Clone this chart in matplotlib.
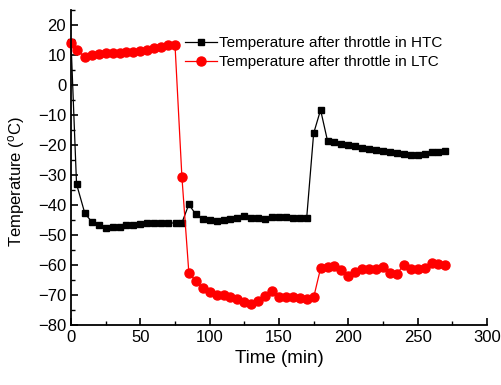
import matplotlib as mpl
mpl.use('Agg')
import matplotlib.pyplot as plt
from matplotlib.ticker import MultipleLocator

plt.rcParams['font.family'] = ['Liberation Sans', 'DejaVu Sans']
plt.rcParams['mathtext.fontset'] = 'custom'
plt.rcParams['mathtext.rm'] = 'Liberation Sans'
plt.rcParams['mathtext.it'] = 'Liberation Sans'

# time (min) and temperature (C)
t_htc = [0, 4, 10, 15, 20, 25, 30, 35, 40, 45, 50, 55, 60, 65, 70, 76,
         80, 85, 90, 95, 100, 105, 110, 115, 120, 125, 130, 135, 140, 145,
         150, 155, 160, 165, 170, 175, 180, 185, 190, 195, 200, 205, 210,
         215, 220, 225, 230, 235, 240, 245, 250, 255, 260, 265, 270]
temp_htc = [14.5, -33, -42.8, -45.6, -46.7, -47.6, -47.4, -47.2, -46.7, -46.7,
            -46.4, -46.1, -46.1, -46.1, -46.1, -45.9,
            -45.9, -39.8, -43.1, -44.8, -45.0, -45.2, -45.0, -44.8, -44.4,
            -43.7, -44.2, -44.4, -44.8, -44.1, -43.9, -44.1, -44.2, -44.2,
            -44.2, -16.1, -8.3, -18.6, -19.1, -19.7, -20.0, -20.3, -21.1,
            -21.4, -21.7, -22.0, -22.4, -22.8, -23.0, -23.3, -23.3, -23.0,
            -22.4, -22.2, -22.0]

t_ltc = [0, 4, 10, 15, 20, 25, 30, 35, 40, 45, 50, 55, 60, 65, 70, 75,
         80, 85, 90, 95, 100, 105, 110, 115, 120, 125, 130, 135, 140, 145,
         150, 155, 160, 165, 170, 175, 180, 185, 190, 195, 200, 205, 210,
         215, 220, 225, 230, 235, 240, 245, 250, 255, 260, 265, 270]
temp_ltc = [14.0, 11.7, 9.4, 10.0, 10.3, 10.6, 10.6, 10.8, 10.9, 11.1, 11.3,
            11.7, 12.2, 12.7, 13.2, 13.5,
            -30.7, -62.6, -65.3, -67.8, -68.9, -70.0, -70.0, -70.6, -71.4,
            -72.2, -73.1, -71.9, -70.2, -68.6, -70.6, -70.6, -70.6, -70.9,
            -71.4, -70.8, -61.1, -60.8, -60.2, -61.7, -63.7, -62.4, -61.3,
            -61.3, -61.4, -60.6, -62.8, -63.0, -59.9, -61.2, -61.4, -61.1,
            -59.4, -59.7, -59.9]

fig = plt.figure(figsize=(5.01, 3.85), dpi=100)
ax = fig.add_axes([0.1417, 0.1558, 0.8303, 0.8182])

ax.plot(t_htc, temp_htc, color='black', marker='s', markersize=5,
        linewidth=0.9, label='Temperature after throttle in HTC', clip_on=False)
ax.plot(t_ltc, temp_ltc, color='red', marker='o', markersize=6.5,
        linewidth=0.9, label='Temperature after throttle in LTC', clip_on=False)

ax.set_xlim(0, 300)
ax.xaxis.set_major_locator(MultipleLocator(50))
ax.xaxis.set_minor_locator(MultipleLocator(25))
ax.yaxis.set_minor_locator(MultipleLocator(5))
ax.set_yticks(range(-80, 21, 10))
ax.set_ylim(-80, 25)

for s in ['top', 'right']:
    ax.spines[s].set_visible(False)
for s in ['left', 'bottom']:
    ax.spines[s].set_linewidth(1.3)
ax.tick_params(which='major', direction='in', length=5, width=1.2, labelsize=12)
ax.tick_params(which='minor', direction='in', length=3, width=1.0)

ax.set_xlabel('Time (min)', fontsize=13.5)
ax.set_ylabel('Temperature ($^{\\mathrm{o}}$C)', fontsize=12)
ax.yaxis.set_label_coords(-0.105, 0.457)

ax.legend(loc='upper left', bbox_to_anchor=(0.274, 0.917), frameon=False,
          fontsize=11, borderaxespad=0, borderpad=0, handlelength=2.1,
          handletextpad=0.15, labelspacing=0.32)

fig.savefig('out.png')
